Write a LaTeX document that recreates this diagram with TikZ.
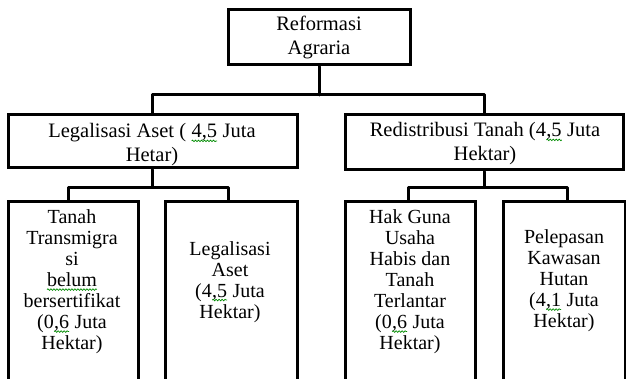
\documentclass[tikz,border=0pt]{standalone}
\usepackage{fontspec}
\setmainfont{Liberation Serif}
\usetikzlibrary{decorations.pathmorphing}
\newcommand{\sqg}[1]{\tikz[baseline=(w.base),x=1pt,y=1pt]{\node[inner sep=0pt,outer sep=0pt,draw=none,fill=none,minimum width=0pt,minimum height=0pt,line width=0.4pt](w){#1};\draw[green!55!black,line width=0.7pt,decorate,decoration={snake,amplitude=0.8pt,segment length=3pt}] ([yshift=-3pt]w.base west) -- ([yshift=-3pt]w.base east);}}
\begin{document}
\begin{tikzpicture}[x=1pt,y=-1pt,
  box/.style={draw=black,line width=3pt,inner sep=0pt,fill=white},
  lbl/.style={align=center,inner sep=0pt,font=\fontsize{20}{21}\selectfont},
  conn/.style={draw=black,line width=3pt,line join=round,line cap=round}]
\useasboundingbox (0,0) rectangle (626,379);
\clip (0,0) rectangle (626,379);
\fill[white] (0,0) rectangle (626,379);
% boxes
\node[box,minimum width=182pt,minimum height=55pt,align=center,font=\fontsize{20.5}{23.5}\selectfont] (ra) at (319,37.5) {Reformasi\\Agraria};
\node[box,minimum width=289pt,minimum height=53pt] (la) at (152.5,141.5) {};
\node[box,minimum width=278pt,minimum height=55pt] (rd) at (484,142.5) {};
\node[lbl,font=\fontsize{20.5}{24}\selectfont] (tl) at (152,145) {Legalisasi Aset (\ \sqg{4,5} Juta\\Hetar)};
\node[lbl,font=\fontsize{20.5}{24}\selectfont] (tr) at (485,144) {Redistribusi Tanah (4\sqg{,5} Juta\\Hektar)};
\node[box,minimum width=130pt,minimum height=220pt,anchor=north] (b1) at (73,200) {};
\node[box,minimum width=132pt,minimum height=220pt,anchor=north] (b2) at (231,200) {};
\node[box,minimum width=130pt,minimum height=220pt,anchor=north] (b3) at (410,200) {};
\node[box,minimum width=122pt,minimum height=220pt,anchor=north] (b4) at (564,200) {};
% labels
\node[lbl,anchor=north] (t1) at (72,209.5) {Tanah\\Transmigra\\si\\\sqg{belum}\\bersertifikat\\(0\sqg{,6} Juta\\Hektar)};
\node[lbl,anchor=north] (t2) at (230,241) {Legalisasi\\Aset\\(4\sqg{,5} Juta\\Hektar)};
\node[lbl,anchor=north] (t3) at (410,209.5) {Hak Guna\\Usaha\\Habis dan\\Tanah\\Terlantar\\(0\sqg{,6} Juta\\Hektar)};
\node[lbl,anchor=north] (t4) at (564,229.5) {Pelepasan\\Kawasan\\Hutan\\(4\sqg{,1} Juta\\Hektar)};
% connectors
\coordinate (j1) at (319,95);
\draw[conn] (ra.south) -- (j1);
\draw[conn] (la.north) |- (j1) -| (rd.north);
\path (la.south) ++(0,18) coordinate (j2);
\path (rd.south) ++(0,16) coordinate (j3);
\draw[conn] (la.south) -- (j2);
\draw[conn] ([xshift=-5pt]b1.north) |- (j2) -| ([xshift=-3pt]b2.north);
\draw[conn] (rd.south) -- (j3);
\draw[conn] ([xshift=-2pt]b3.north) |- (j3) -| ([xshift=3pt]b4.north);
\end{tikzpicture}
\end{document}
